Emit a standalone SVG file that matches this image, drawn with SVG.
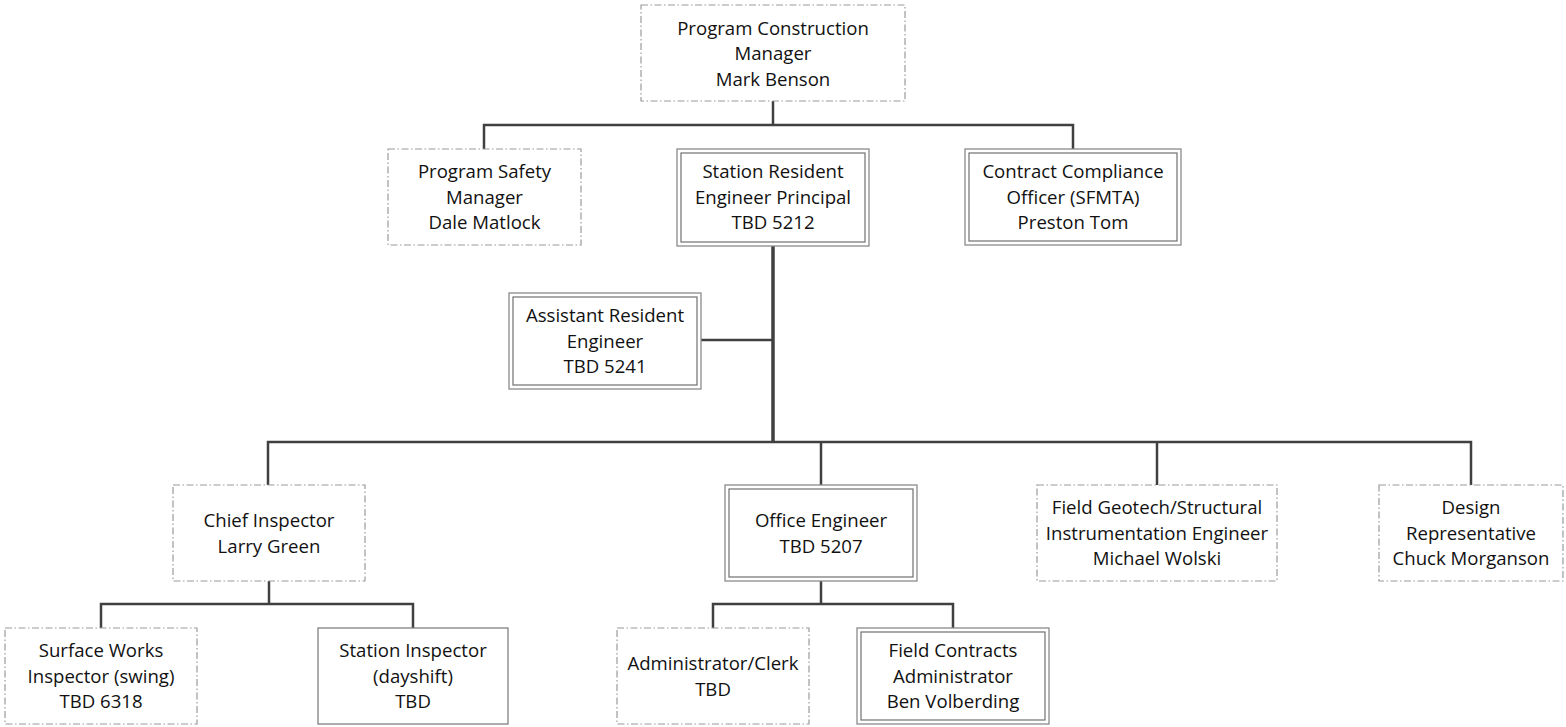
<svg xmlns="http://www.w3.org/2000/svg" width="1566" height="727" viewBox="0 0 1566 727">
<style>
.bg{fill:#ffffff}
.dd{fill:#ffffff;stroke:#9a9a9a;stroke-width:1.2;stroke-dasharray:7 2.5 1.5 2.5}
.so{fill:#ffffff;stroke:#808080;stroke-width:1.3}
.d1{fill:#ffffff;stroke:#8a8a8a;stroke-width:1.3}
.d2{fill:none;stroke:#707070;stroke-width:1.2}
.ln{fill:none;stroke:#404040;stroke-width:2.5;stroke-linejoin:miter}
.th{fill:none;stroke:#404040;stroke-width:3.5}
text{font-family:"Open Sans","Noto Sans",sans-serif;font-size:18.6px;fill:#111111;text-anchor:middle}
</style>
<rect class="bg" x="0" y="0" width="1566" height="727"/>
<g id="connectors">
<path class="ln" d="M773,101 V125"/>
<path class="ln" d="M484,149 V125 H1073 V149"/>
<path class="th" d="M773,246 V442"/>
<path class="ln" d="M701,340 H773"/>
<path class="ln" d="M268,485 V442 H1471 V485"/>
<path class="ln" d="M821,442 V485"/>
<path class="ln" d="M1157,442 V485"/>
<path class="ln" d="M269,581 V604"/>
<path class="ln" d="M101,628 V604 H413 V628"/>
<path class="ln" d="M821,581 V604"/>
<path class="ln" d="M713,628 V604 H953 V628"/>
</g>
<g id="node-pcm">
<rect class="dd" x="641" y="5" width="264" height="96"/>
<text x="773" y="34.5">Program Construction</text>
<text x="773" y="60">Manager</text>
<text x="773" y="85.5">Mark Benson</text>
</g>
<g id="node-safety">
<rect class="dd" x="388" y="149" width="193" height="96"/>
<text x="484.5" y="178">Program Safety</text>
<text x="484.5" y="203.5">Manager</text>
<text x="484.5" y="229">Dale Matlock</text>
</g>
<g id="node-sre">
<rect class="d1" x="677" y="149" width="192" height="97"/>
<rect class="d2" x="681" y="153" width="184" height="89"/>
<text x="773" y="178">Station Resident</text>
<text x="773" y="203.5">Engineer Principal</text>
<text x="773" y="229">TBD 5212</text>
</g>
<g id="node-compliance">
<rect class="d1" x="965" y="149" width="216" height="96"/>
<rect class="d2" x="969" y="153" width="208" height="88"/>
<text x="1073" y="178">Contract Compliance</text>
<text x="1073" y="203.5">Officer (SFMTA)</text>
<text x="1073" y="229">Preston Tom</text>
</g>
<g id="node-assistant">
<rect class="d1" x="509" y="293" width="192" height="96"/>
<rect class="d2" x="513" y="297" width="184" height="88"/>
<text x="605" y="322">Assistant Resident</text>
<text x="605" y="347.5">Engineer</text>
<text x="605" y="373">TBD 5241</text>
</g>
<g id="node-chief">
<rect class="dd" x="173" y="485" width="192" height="96"/>
<text x="269" y="527">Chief Inspector</text>
<text x="269" y="552.5">Larry Green</text>
</g>
<g id="node-office">
<rect class="d1" x="725" y="485" width="192" height="96"/>
<rect class="d2" x="729" y="489" width="184" height="88"/>
<text x="821" y="527">Office Engineer</text>
<text x="821" y="552.5">TBD 5207</text>
</g>
<g id="node-geotech">
<rect class="dd" x="1037" y="485" width="240" height="96"/>
<text x="1157" y="514">Field Geotech/Structural</text>
<text x="1157" y="539.5">Instrumentation Engineer</text>
<text x="1157" y="565">Michael Wolski</text>
</g>
<g id="node-design">
<rect class="dd" x="1379" y="485" width="184" height="96"/>
<text x="1471" y="514">Design</text>
<text x="1471" y="539.5">Representative</text>
<text x="1471" y="565">Chuck Morganson</text>
</g>
<g id="node-surface">
<rect class="dd" x="5" y="628" width="192" height="96"/>
<text x="101" y="657">Surface Works</text>
<text x="101" y="682.5">Inspector (swing)</text>
<text x="101" y="708">TBD 6318</text>
</g>
<g id="node-station-inspector">
<rect class="so" x="318" y="628" width="190" height="96"/>
<text x="413" y="657">Station Inspector</text>
<text x="413" y="682.5">(dayshift)</text>
<text x="413" y="708">TBD</text>
</g>
<g id="node-admin">
<rect class="dd" x="617" y="628" width="192" height="96"/>
<text x="713" y="670">Administrator/Clerk</text>
<text x="713" y="695.5">TBD</text>
</g>
<g id="node-fca">
<rect class="d1" x="857" y="628" width="192" height="96"/>
<rect class="d2" x="861" y="632" width="184" height="88"/>
<text x="953" y="657">Field Contracts</text>
<text x="953" y="682.5">Administrator</text>
<text x="953" y="708">Ben Volberding</text>
</g>
</svg>
